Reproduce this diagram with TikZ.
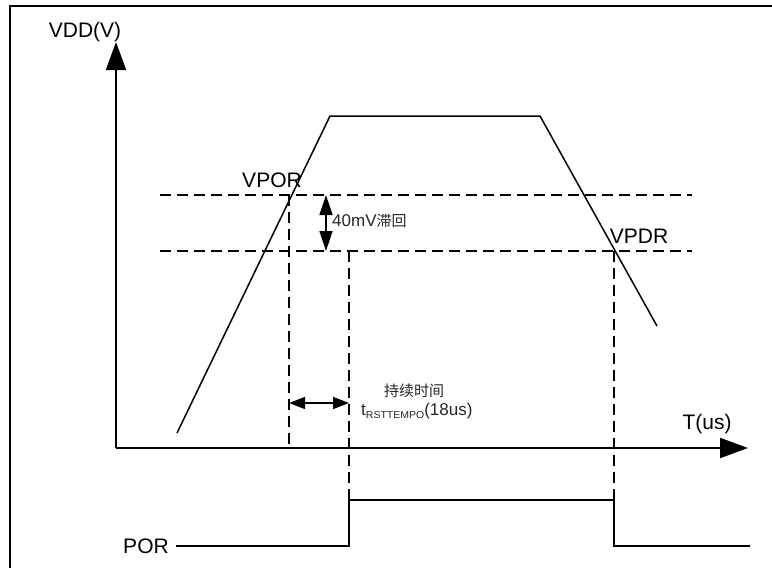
\documentclass[tikz,border=0pt]{standalone}
\usepackage{fontspec}
\setmainfont{Liberation Sans}
\newfontfamily\cjk{Noto Sans CJK SC}
\usetikzlibrary{arrows.meta}
\begin{document}
\begin{tikzpicture}[x=1pt,y=-1pt,
  axis/.style={line width=2pt,-{Triangle[length=28pt,width=20pt]}},
  curve/.style={line width=1.5pt,line join=miter},
  dsh/.style={line width=1.4pt,dash pattern=on 11pt off 6pt},
  dbl/.style={line width=1.5pt,{Triangle[length=20pt,width=13pt]}-{Triangle[length=20pt,width=13pt]}},
  dbls/.style={line width=1.5pt,{Triangle[length=16pt,width=12pt]}-{Triangle[length=16pt,width=12pt]}},
  big/.style={font=\fontsize{21}{23}\selectfont,inner sep=0pt},
  small/.style={font=\fontsize{15}{17}\selectfont,inner sep=0pt,text=black!85}]
\useasboundingbox (0,0) rectangle (772,568);
\draw[line width=2pt] (10,568) -- (10,6) -- (772,6);
% axes
\coordinate (O) at (116,448);
\coordinate (Ytip) at (116,42);
\coordinate (Xtip) at (748,448);
\draw[axis] (O) -- (Ytip);
\draw[axis] (O) -- (Xtip);
\node[big] (vdd) at (85,32) {VDD(V)};
\node[big] (tus) at (707,424) {T(us)};
% curve
\coordinate (c0) at (177,433);
\coordinate (c1) at (330,116);
\coordinate (c2) at (540,116);
\coordinate (c3) at (657,326);
\draw[curve] (c0) -- (c1) -- (c2) -- (c3);
% dashed thresholds
\coordinate (h1a) at (160,195); \coordinate (h1b) at (692,195);
\coordinate (h2a) at (160,251); \coordinate (h2b) at (692,251);
\draw[dsh] (h1a) -- (h1b);
\draw[dsh] (h2a) -- (h2b);
\coordinate (v1a) at (289,195); \coordinate (v1b) at (289,448);
\coordinate (v2a) at (349,251); \coordinate (v2b) at (349,500);
\coordinate (v3a) at (614,251); \coordinate (v3b) at (614,500);
\draw[dsh] (v1a) -- (v1b);
\draw[dsh] (v2a) -- (v2b);
\draw[dsh] (v3a) -- (v3b);
\node[big] (vpor) at (272,180) {VPOR};
\node[big] (vpdr) at (639,236) {VPDR};
% hysteresis arrow
\coordinate (ha) at (326,195); \coordinate (hb) at (326,251);
\draw[dbl] (ha) -- (hb);
\node[small,anchor=west,font=\fontsize{17}{19}\selectfont] (hys) at (332,221) {40mV{\cjk\fontsize{15}{17}\selectfont 滞回}};
% duration arrow
\coordinate (da) at (289,403); \coordinate (db) at (349,403);
\draw[dbls] (da) -- (db);
\node[small] (dur1) at (414,391) {\cjk 持续时间};
\node[small,anchor=west,font=\fontsize{17}{19}\selectfont] (dur2) at (361,411) {t\raisebox{-3pt}{\scalebox{1.05}[1]{\fontsize{10}{11}\selectfont RSTTEMPO}}(18us)};
% POR
\node[big] (por) at (146,546) {POR};
\coordinate (p0) at (176,546); \coordinate (p1) at (349,546);
\coordinate (p2) at (349,500); \coordinate (p3) at (614,500);
\coordinate (p4) at (614,546); \coordinate (p5) at (750,546);
\draw[line width=1.5pt] (p0) -- (p1) -- (p2) -- (p3) -- (p4) -- (p5);
\end{tikzpicture}
\end{document}
